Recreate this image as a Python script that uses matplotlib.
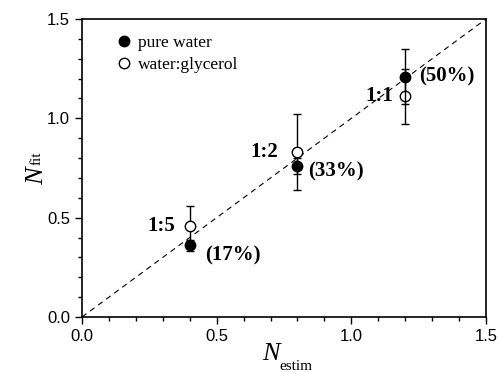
import numpy as np
import matplotlib.pyplot as plt
from matplotlib.lines import Line2D

n_estim = [0.4, 0.8, 1.2]
water = [0.36, 0.76, 1.21]      # pure water
water_err = [0.03, 0.04, 0.14]
glyc = [0.46, 0.83, 1.11]       # water:glycerol
glyc_err = [0.10, 0.19, 0.14]
ratios = ['1:5', '1:2', '1:1']
percents = ['(17%)', '(33%)', '(50%)']

W, H = 500, 372
fig = plt.figure(figsize=(W / 100, H / 100), dpi=100)
ax = fig.add_axes([82 / W, 1 - 317 / H, 404 / W, 298 / H])

ax.plot([0, 1.5], [0, 1.5], 'k--', lw=0.8, dashes=(5, 4))
ax.errorbar(n_estim, glyc, yerr=glyc_err, fmt='o', mfc='white', mec='black', ecolor='black',
            ms=7.5, capsize=3, elinewidth=1, capthick=1, zorder=3)
ax.errorbar(n_estim, water, yerr=water_err, fmt='o', mfc='black', mec='black', ecolor='black',
            ms=7.5, capsize=3, elinewidth=1, capthick=1, zorder=4)

bold = dict(family='Liberation Serif', fontweight='bold', fontsize=15)
# ratio labels left of open symbols, percentages right of filled ones
ax.text(0.345, glyc[0], ratios[0], ha='right', va='center', **bold)
ax.text(0.73, glyc[1], ratios[1], ha='right', va='center', **bold)
ax.text(1.155, glyc[2], ratios[2], ha='right', va='center', **bold)
ax.text(0.457, 0.31, percents[0], ha='left', va='center', **bold)
ax.text(0.84, 0.73, percents[1], ha='left', va='center', **bold)
ax.text(1.25, 1.213, percents[2], ha='left', va='center', **bold)

handles = [Line2D([], [], ls='none', marker='o', ms=7.5, mfc='black', mec='black'),
           Line2D([], [], ls='none', marker='o', ms=7.5, mfc='white', mec='black')]
ax.legend(handles, ['pure water', 'water:glycerol'], loc='upper left',
          bbox_to_anchor=(0.078, 0.946), frameon=False,
          prop={'family': 'Liberation Serif', 'size': 12.5},
          handletextpad=0.2, borderaxespad=0, borderpad=0, labelspacing=0.3, handlelength=1.2)

ax.set_xlim(0, 1.5)
ax.set_ylim(0, 1.5)
ax.set_xticks([0, 0.5, 1.0, 1.5])
ax.set_yticks([0, 0.5, 1.0, 1.5])
ax.set_xticks(np.arange(0, 1.51, 0.1), minor=True)
ax.set_yticks(np.arange(0, 1.51, 0.1), minor=True)
ax.tick_params(which='both', direction='out', top=False, right=False, width=1)
ax.tick_params(which='major', length=5, labelsize=12)
ax.tick_params(which='minor', length=3)
for lab in ax.get_xticklabels() + ax.get_yticklabels():
    lab.set_family('Liberation Sans')
ax.xaxis.set_major_formatter(plt.FormatStrFormatter('%.1f'))
ax.yaxis.set_major_formatter(plt.FormatStrFormatter('%.1f'))
for s in ax.spines.values():
    s.set_linewidth(1.2)

# axis labels: italic N with small roman subscript
fig.text(262 / W, 1 - 360 / H, 'N', family='Liberation Serif', style='italic', fontsize=19,
         ha='left', va='baseline')
fig.text(279 / W, 1 - 370 / H, 'estim', family='Liberation Serif', fontsize=11,
         ha='left', va='baseline')
fig.text(26 / W, 1 - 185 / H, 'N', family='Liberation Serif', style='italic', fontsize=19,
         rotation=90, ha='left', va='bottom')
fig.text(31 / W, 1 - 165 / H, 'fit', family='Liberation Serif', fontsize=11,
         rotation=90, ha='left', va='bottom')

fig.savefig('out.png', dpi=100)
